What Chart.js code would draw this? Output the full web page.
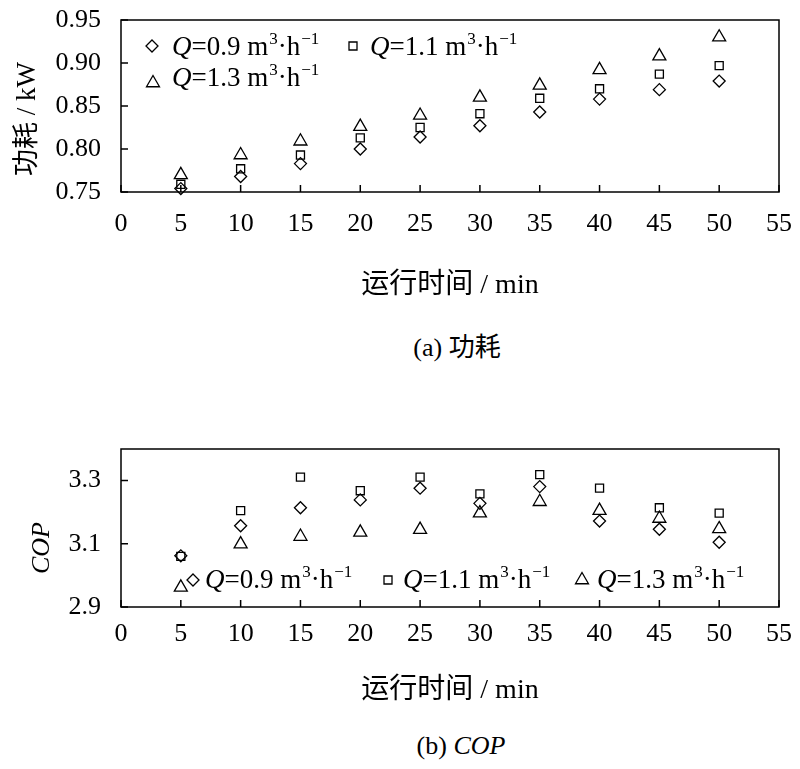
<!DOCTYPE html>
<html>
<head>
<meta charset="utf-8">
<script src="https://cdn.jsdelivr.net/npm/chart.js@4.4.1/dist/chart.umd.min.js"></script>
<style>
    body { margin: 0; background: #fff; width: 800px; height: 769px; position: relative; overflow: hidden; }
    .box { position: absolute; left: 0; width: 800px; }
    #box1 { top: 0; height: 310px; }
    #box2 { top: 420px; height: 290px; }
    .cap { position: absolute; width: 800px; text-align: center; color: #000;
           font: 26px "Liberation Serif", "Noto Sans CJK SC", serif; line-height: 30px; }
</style>
</head>
<body>
<div class="box" id="box1"><canvas id="chartPower"></canvas></div>
<div class="cap" style="top:333px; left:57px;">(a) 功耗</div>
<div class="box" id="box2"><canvas id="chartCop"></canvas></div>
<div class="cap" style="top:731px; left:61px;">(b) <i>COP</i></div>

<script>
// --- Daten ---
const zeiten = [5, 10, 15, 20, 25, 30, 35, 40, 45, 50];
const durchfluss = ["0.9", "1.1", "1.3"];

const leistung09 = [0.754, 0.768, 0.783, 0.800, 0.814, 0.827, 0.843, 0.858, 0.869, 0.879];
const leistung11 = [0.759, 0.777, 0.793, 0.813, 0.825, 0.841, 0.859, 0.870, 0.887, 0.897];
const leistung13 = [0.770, 0.793, 0.809, 0.826, 0.839, 0.860, 0.874, 0.892, 0.908, 0.930];

const cop09 = [3.062, 3.157, 3.214, 3.239, 3.276, 3.228, 3.281, 3.172, 3.146, 3.105];
const cop11 = [3.060, 3.205, 3.311, 3.268, 3.311, 3.258, 3.319, 3.276, 3.214, 3.197];
const cop13 = [2.962, 3.099, 3.123, 3.136, 3.145, 3.197, 3.233, 3.205, 3.180, 3.147];

const xTicks = [0, 5, 10, 15, 20, 25, 30, 35, 40, 45, 50, 55];
const leistungTicks = [0.75, 0.80, 0.85, 0.90, 0.95];
const copTicks = [2.9, 3.1, 3.3];

const SERIF = '"Liberation Serif", "Noto Sans CJK SC", serif';
const stile = ["rectRot", "rect", "triangle"];
const radien = [6, 5.7, 7.5];

// --- Marker von Hand zeichnen (Legende) ---
function marker(ctx, stil, x, y) {
    ctx.beginPath();
    if (stil === "rectRot") {
        const r = 6;
        ctx.moveTo(x, y - r); ctx.lineTo(x + r, y); ctx.lineTo(x, y + r); ctx.lineTo(x - r, y);
        ctx.closePath();
    } else if (stil === "rect") {
        ctx.rect(x - 4, y - 4, 8, 8);
    } else {
        const r = 7.5, s = r * Math.sin(Math.PI / 3);
        ctx.moveTo(x, y - r); ctx.lineTo(x + s, y + r / 2); ctx.lineTo(x - s, y + r / 2);
        ctx.closePath();
    }
    ctx.stroke();
}

function legendenText(ctx, q, x, y) {
    ctx.textAlign = "left";
    ctx.textBaseline = "alphabetic";
    ctx.font = "italic 27px " + SERIF;
    ctx.fillText("Q", x, y); x += ctx.measureText("Q").width;
    ctx.font = "27px " + SERIF;
    let t = "=" + q + " m";
    ctx.fillText(t, x, y); x += ctx.measureText(t).width + 1;
    ctx.font = "17px " + SERIF;
    ctx.fillText("3", x, y - 11); x += ctx.measureText("3").width;
    ctx.font = "27px " + SERIF;
    ctx.fillText("·h", x, y); x += ctx.measureText("·h").width + 1;
    ctx.font = "17px " + SERIF;
    ctx.fillText("\u22121", x, y - 11);
}

// --- Rahmen, Innen-Ticks, Legende, y-Titel ---
const rahmenPlugin = {
    id: "rahmen",
    afterDraw(chart, args, opts) {
        const { ctx, chartArea: a, scales } = chart;
        ctx.save();
        ctx.strokeStyle = "#000";
        ctx.fillStyle = "#000";
        ctx.lineWidth = 1.5;
        ctx.strokeRect(a.left, a.top, a.right - a.left, a.bottom - a.top);

        ctx.beginPath();
        scales.x.ticks.forEach(t => {
            const px = scales.x.getPixelForValue(t.value);
            ctx.moveTo(px, a.bottom); ctx.lineTo(px, a.bottom - 7);
        });
        scales.y.ticks.forEach(t => {
            const py = scales.y.getPixelForValue(t.value);
            ctx.moveTo(a.left, py); ctx.lineTo(a.left + 7, py);
        });
        ctx.stroke();

        ctx.lineWidth = 1.3;
        opts.legende.forEach((l, i) => {
            marker(ctx, stile[i], a.left + l[0], a.top + l[1]);
            legendenText(ctx, durchfluss[i], a.left + l[2], a.top + l[3]);
        });

        ctx.translate(opts.titelX, a.top + opts.titelY);
        ctx.rotate(-Math.PI / 2);
        ctx.textAlign = "center";
        ctx.textBaseline = "middle";
        ctx.font = opts.titelFont + " " + SERIF;
        ctx.fillText(opts.titel, 0, 0);
        ctx.restore();
    }
};

function datensatz(werte, i) {
    return {
        label: "Q=" + durchfluss[i],
        data: zeiten.map((z, k) => ({ x: z, y: werte[k] })),
        pointStyle: stile[i],
        pointRadius: radien[i],
        pointHoverRadius: radien[i],
        pointBorderColor: "#000",
        pointBackgroundColor: "rgba(0,0,0,0)",
        pointBorderWidth: 1.3,
        showLine: false,
        clip: false
    };
}

function diagramm(id, cfg) {
    return new Chart(document.getElementById(id), {
        type: "scatter",
        data: { datasets: cfg.reihen.map((w, i) => datensatz(w, i)) },
        options: {
            responsive: true,
            maintainAspectRatio: false,
            animation: false,
            layout: { padding: { left: 0, right: 21, top: cfg.oben, bottom: 0 } },
            plugins: {
                legend: { display: false },
                tooltip: { enabled: false },
                rahmen: cfg.rahmen
            },
            scales: {
                x: {
                    type: "linear", min: 0, max: 55,
                    afterBuildTicks: s => { s.ticks = xTicks.map(v => ({ value: v })); },
                    afterFit: s => { s.height = cfg.xHoehe; s.paddingLeft = 0; s.paddingRight = 0; },
                    grid: { display: false },
                    border: { display: false },
                    ticks: { color: "#000", padding: cfg.xPad, font: { family: SERIF, size: 26 }, maxRotation: 0 },
                    title: {
                        display: true, text: "运行时间 / min", color: "#000",
                        font: { family: SERIF, size: 28 }, padding: { top: 0, bottom: cfg.titelPad }
                    }
                },
                y: {
                    type: "linear", min: cfg.yMin, max: cfg.yMax,
                    afterBuildTicks: s => { s.ticks = cfg.yTicks.map(v => ({ value: v })); },
                    afterFit: s => { s.width = 121; s.paddingTop = 0; s.paddingBottom = 0; },
                    grid: { display: false },
                    border: { display: false },
                    ticks: {
                        color: "#000", padding: 12, font: { family: SERIF, size: 26 },
                        callback: v => v.toFixed(cfg.stellen)
                    }
                }
            }
        },
        plugins: [rahmenPlugin]
    });
}

diagramm("chartPower", {
    reihen: [leistung09, leistung11, leistung13],
    yMin: 0.75, yMax: 0.95, yTicks: leistungTicks, stellen: 2,
    oben: 20, xHoehe: 118, xPad: 9, titelPad: 8,
    rahmen: {
        legende: [[31, 26, 51, 35], [232, 26, 249, 35], [32, 63, 51, 66]],
        titel: "功耗 / kW", titelFont: "27px", titelX: 28, titelY: 99
    }
});

diagramm("chartCop", {
    reihen: [cop09, cop11, cop13],
    yMin: 2.9, yMax: 3.4, yTicks: copTicks, stellen: 1,
    oben: 29, xHoehe: 103, xPad: 4, titelPad: 3,
    rahmen: {
        legende: [[72, 131, 84, 139], [267, 131, 282, 139], [461, 131, 476, 139]],
        titel: "COP", titelFont: "italic 26px", titelX: 42, titelY: 99
    }
});
</script>
</body>
</html>
